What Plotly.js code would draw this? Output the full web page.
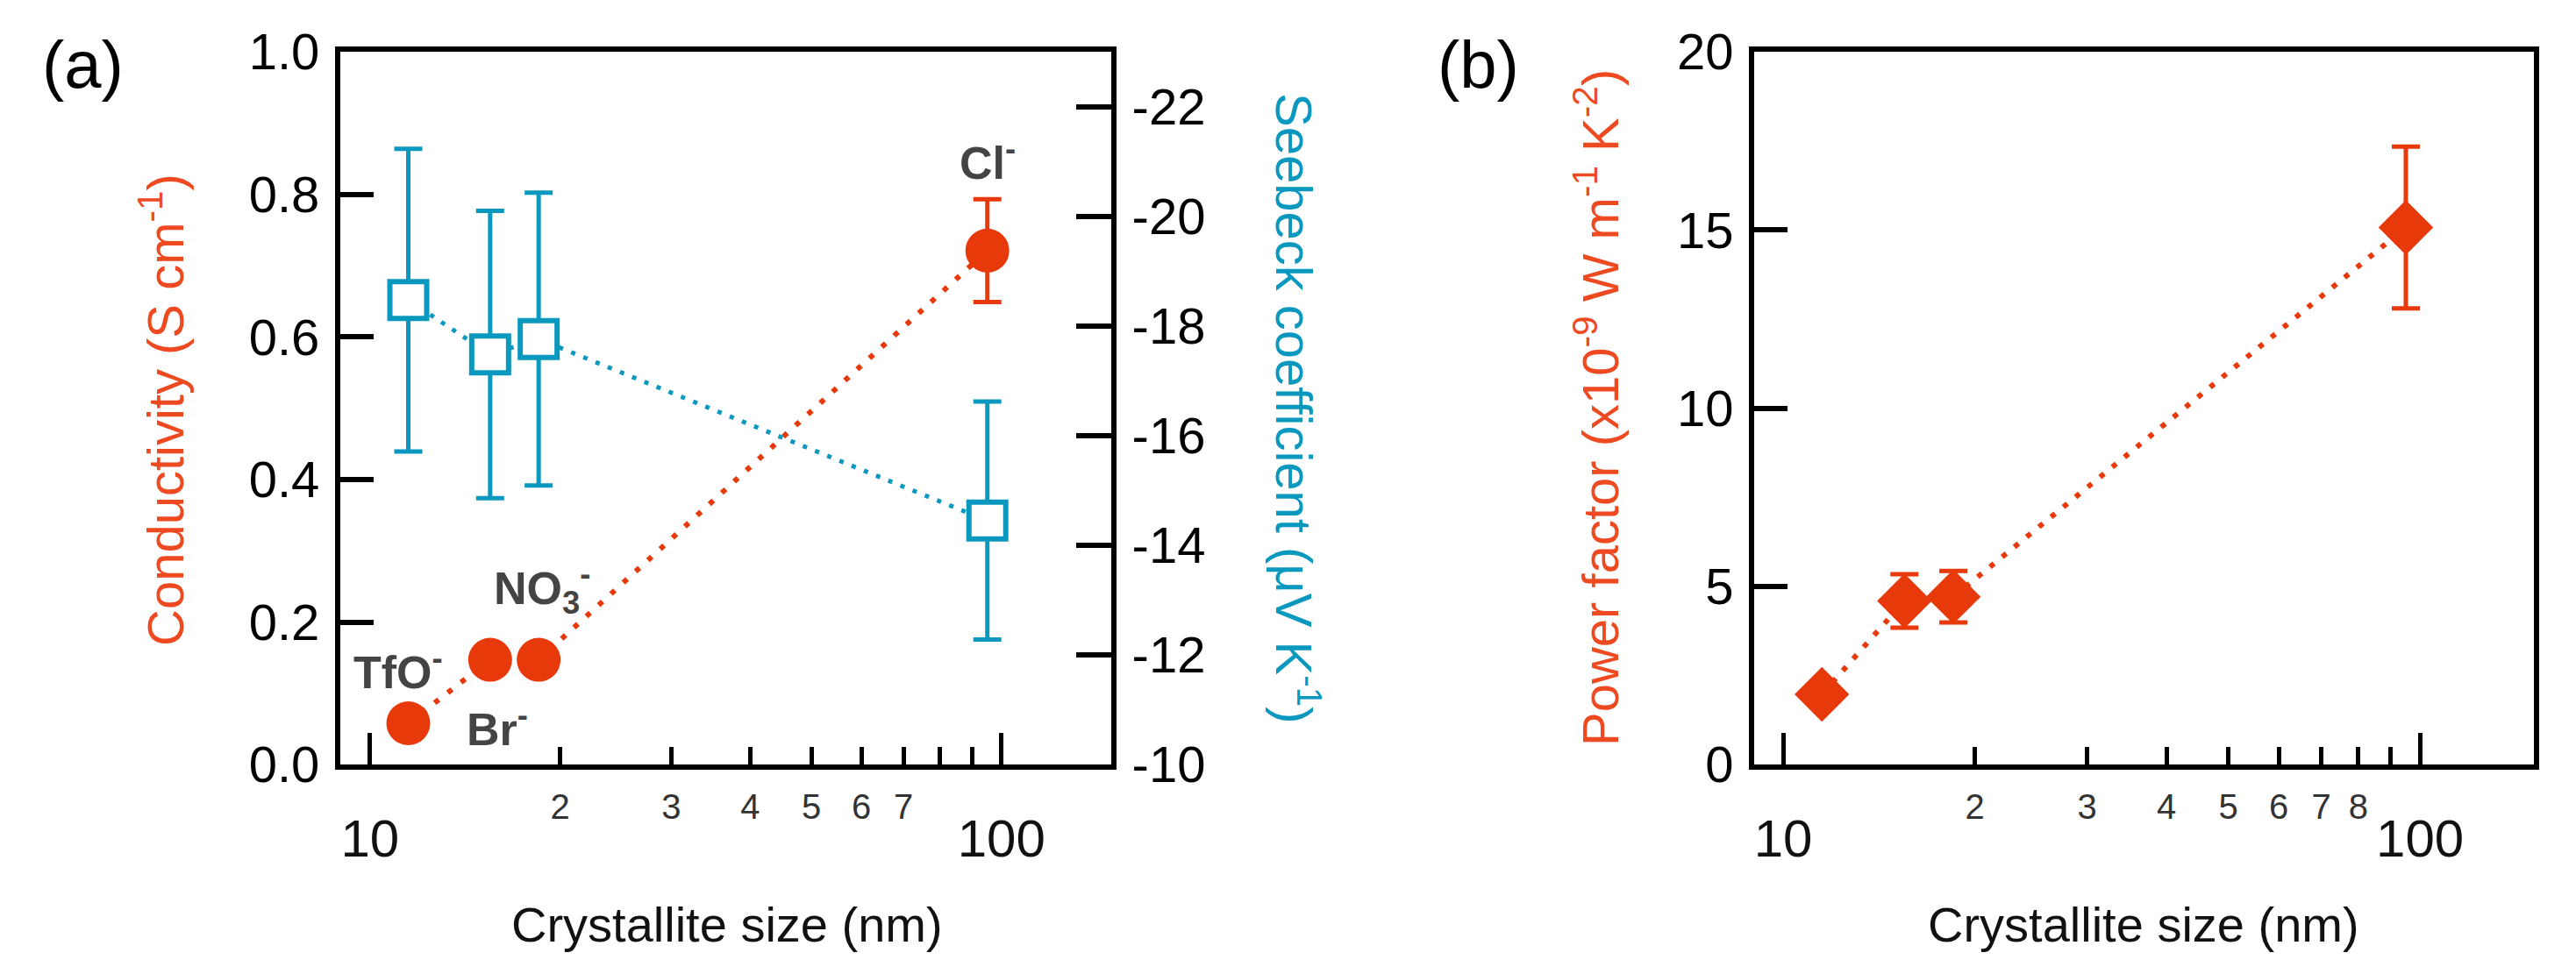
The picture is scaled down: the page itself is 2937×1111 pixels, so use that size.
<!DOCTYPE html>
<html>
<head>
<meta charset="utf-8">
<script src="https://cdn.plot.ly/plotly-3.0.1.min.js"></script>
<style>html,body{margin:0;padding:0;background:#fff;}#chart{width:2937px;height:1111px;}</style>
</head>
<body>
<div id="chart"></div>
<script>
// ---- data ----
const crystalliteSize = [11.5, 15.5, 18.5, 95];
const ionLabels = ['TfO<sup>-</sup>', 'Br<sup>-</sup>', 'NO<sub>3</sub><sup>-</sup>', 'Cl<sup>-</sup>'];
const conductivity = [0.058, 0.147, 0.147, 0.721];
const conductivityErr = [0, 0, 0, 0.072];
const seebeck = [-18.47, -17.48, -17.76, -14.45];
const seebeckErr = [2.76, 2.62, 2.67, 2.17];
const powerFactor = [1.97, 4.59, 4.71, 15.07];
const powerFactorErr = [0.25, 0.75, 0.72, 2.27];

const majorTicks = [10, 100];
const majorText = ['10', '100'];
const labeledTicksA = [20, 30, 40, 50, 60, 70];
const labeledTextA = ['2', '3', '4', '5', '6', '7'];
const unlabeledTicksA = [80, 90];
const labeledTicksB = [20, 30, 40, 50, 60, 70, 80];
const labeledTextB = ['2', '3', '4', '5', '6', '7', '8'];
const unlabeledTicksB = [90];
const condTicks = [0, 0.2, 0.4, 0.6, 0.8, 1.0];
const condText = ['0.0', '0.2', '0.4', '0.6', '0.8', '1.0'];
const seebeckTicks = [-22, -20, -18, -16, -14, -12, -10];
const seebeckText = ['-22', '-20', '-18', '-16', '-14', '-12', '-10'];
const pfTicks = [0, 5, 10, 15, 20];
const pfText = ['0', '5', '10', '15', '20'];

// ---- style ----
const FONT = '"Liberation Sans", Arial, sans-serif';
const RED = '#E8390B';
const RED_TITLE = '#EE4A22';
const TEAL = '#0A98BF';
const labelShiftX = [-12, 8, 4, 0];
const labelShiftY = [62, -75, 82, 104];

const traces = [
  {
    x: crystalliteSize, y: seebeck, xaxis: 'x', yaxis: 'y2', type: 'scatter', mode: 'lines+markers',
    line: {color: TEAL, width: 5, dash: '5px,10px'},
    marker: {symbol: 'square', size: 42, color: '#ffffff', line: {color: TEAL, width: 6}},
    error_y: {type: 'data', array: seebeckErr, visible: true, color: TEAL, thickness: 5, width: 16},
    cliponaxis: false
  },
  {
    x: crystalliteSize, y: conductivity, xaxis: 'x', yaxis: 'y', type: 'scatter', mode: 'lines+markers',
    line: {color: RED, width: 6, dash: '6px,13px'},
    marker: {symbol: 'circle', size: 50, color: RED},
    error_y: {type: 'data', array: conductivityErr, visible: true, color: RED, thickness: 5, width: 16},
    cliponaxis: false
  },
  {
    x: crystalliteSize, y: powerFactor, xaxis: 'x2', yaxis: 'y3', type: 'scatter', mode: 'lines+markers',
    line: {color: RED, width: 6, dash: '6px,12px'},
    marker: {symbol: 'diamond', size: 48, color: RED},
    error_y: {type: 'data', array: powerFactorErr, visible: true, color: RED, thickness: 5, width: 16},
    cliponaxis: false
  },
  // carriers for the overlaid major-tick axes (invisible)
  {x: crystalliteSize, y: conductivity, xaxis: 'x3', yaxis: 'y', type: 'scatter', mode: 'markers',
   marker: {opacity: 0, size: 1}, hoverinfo: 'skip'},
  {x: crystalliteSize, y: powerFactor, xaxis: 'x4', yaxis: 'y3', type: 'scatter', mode: 'markers',
   marker: {opacity: 0, size: 1}, hoverinfo: 'skip'}
];

const rangeA = [0.953, 2.174];
const rangeB = [0.9545, 2.179];
const domA = [0.1321, 0.4314];
const domB = [0.681, 0.9837];
const domY = [0.2150, 0.9469];

function minorAxis(dom, rng, anchor, vals, text, extra) {
  return {
    type: 'log', domain: dom, range: rng, anchor: anchor,
    tickmode: 'array', tickvals: vals, ticktext: text,
    ticks: 'inside', ticklen: 20, tickwidth: 5, tickcolor: '#000',
    tickfont: {family: FONT, size: 40, color: '#333'},
    ticklabelstandoff: 8,
    minor: {tickmode: 'array', tickvals: extra, ticks: 'inside', ticklen: 20, tickwidth: 5, tickcolor: '#000', showgrid: false},
    showline: true, linewidth: 6, linecolor: '#000', mirror: true,
    showgrid: false, zeroline: false, fixedrange: true
  };
}
function majorAxis(over, dom, rng, anchor) {
  return {
    type: 'log', overlaying: over, domain: dom, range: rng, anchor: anchor, side: 'bottom',
    tickmode: 'array', tickvals: majorTicks, ticktext: majorText,
    ticks: 'inside', ticklen: 36, tickwidth: 5, tickcolor: '#000',
    tickfont: {family: FONT, size: 60, color: '#111'},
    ticklabelstandoff: 44,
    showline: false, showgrid: false, zeroline: false
  };
}
function yAx(extra) {
  return Object.assign({
    ticks: 'inside', ticklen: 38, tickwidth: 6, tickcolor: '#000',
    tickfont: {family: FONT, size: 58, color: '#000'},
    ticklabelstandoff: 6,
    showline: true, linewidth: 6, linecolor: '#000',
    showgrid: false, zeroline: false
  }, extra);
}

const annotations = [];
crystalliteSize.forEach((s, i) => {
  annotations.push({
    xref: 'x', yref: 'y', x: Math.log10(s), y: conductivity[i],
    xshift: labelShiftX[i], yshift: labelShiftY[i], showarrow: false,
    text: '<b>' + ionLabels[i] + '</b>',
    font: {family: FONT, size: 52, color: '#444'}
  });
});
function paperText(text, px, py, size, color, angle) {
  annotations.push({
    xref: 'paper', yref: 'paper', x: px / 2937, y: 1 - py / 1111,
    xanchor: 'center', yanchor: 'middle', showarrow: false,
    text: text, textangle: angle || 0,
    font: {family: FONT, size: size, color: color}
  });
}
paperText('(a)', 94, 74, 76, '#000');
paperText('(b)', 1685, 74, 76, '#000');
paperText('Conductivity (S cm<sup>-1</sup>)', 184, 468, 58, RED_TITLE, -90);
paperText('Seebeck coefficient (μV K<sup>-1</sup>)', 1480, 466, 58, TEAL, 90);
paperText('Power factor (x10<sup>-9</sup> W m<sup>-1</sup> K<sup>-2</sup>)', 1820, 465, 58, RED_TITLE, -90);
paperText('Crystallite size (nm)', 829, 1054, 56, '#111');
paperText('Crystallite size (nm)', 2444, 1054, 56, '#111');

const layout = {
  width: 2937, height: 1111,
  margin: {l: 0, r: 0, t: 0, b: 0},
  paper_bgcolor: '#fff', plot_bgcolor: 'rgba(0,0,0,0)',
  showlegend: false,
  font: {family: FONT, color: '#000'},
  xaxis: minorAxis(domA, rangeA, 'y', labeledTicksA, labeledTextA, unlabeledTicksA),
  xaxis3: majorAxis('x', domA, rangeA, 'y'),
  xaxis2: minorAxis(domB, rangeB, 'y3', labeledTicksB, labeledTextB, unlabeledTicksB),
  xaxis4: majorAxis('x2', domB, rangeB, 'y3'),
  yaxis: yAx({domain: domY, range: [0, 1], anchor: 'x', tickmode: 'array', tickvals: condTicks, ticktext: condText}),
  yaxis2: yAx({overlaying: 'y', side: 'right', anchor: 'x', range: [-10, -23], tickmode: 'array', tickvals: seebeckTicks, ticktext: seebeckText, ticklen: 40}),
  yaxis3: yAx({domain: domY, range: [0, 20], anchor: 'x2', tickmode: 'array', tickvals: pfTicks, ticktext: pfText, mirror: true}),
  annotations: annotations
};

Plotly.newPlot('chart', traces, layout, {staticPlot: true, displayModeBar: false});
</script>
</body>
</html>
